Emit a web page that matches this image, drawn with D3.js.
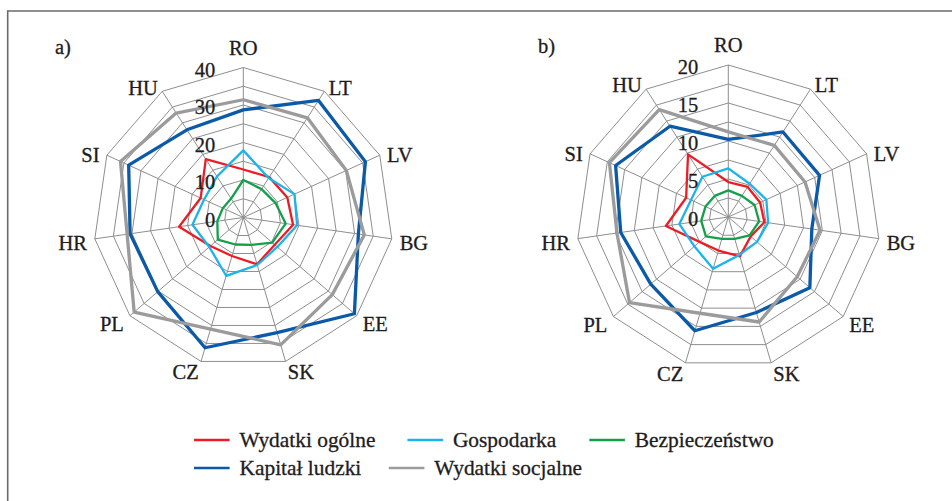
<!DOCTYPE html>
<html><head><meta charset="utf-8">
<script src="https://cdn.jsdelivr.net/npm/d3@7"></script>
<style>
body{margin:0;background:#fff}
svg{display:block}
text{font-family:"Liberation Serif","Times New Roman",serif;fill:#1e1c1d;stroke:#1e1c1d;stroke-width:0.3px}
</style>
</head><body>
<svg id="c" width="952" height="501"></svg>
<script>
// ---- data ----
const categories = ["RO","LT","LV","BG","EE","SK","CZ","PL","HR","SI","HU"];
const seriesNames = ["Wydatki ogólne","Gospodarka","Bezpieczeństwo","Kapitał ludzki","Wydatki socjalne"];
const seriesColors = ["#ec1c24","#1cb3ea","#14a04a","#0b5aa8","#9b9b9b"];

// panel a)
const aWydatkiOgolne   = [12.8, 12.8, 12.9, 13.4, 11.1, 13.0, 10.7, 11.6, 17.3, 12.5, 18.5];
const aGospodarka      = [17.9, 12.5, 15.0, 14.5, 12.0, 13.2, 16.2, 12.0, 13.7, 11.5, 13.0];
const aBezpieczenstwo  = [10.0,  9.0,  9.4, 11.4, 10.2,  7.6,  7.5,  9.0,  7.0,  6.0,  6.0];
const aKapitalLudzki   = [28.7, 37.1, 35.8, 31.0, 39.2, 32.0, 36.2, 30.2, 30.5, 33.6, 27.8];
const aWydatkiSocjalne = [31.4, 31.6, 30.2, 32.6, 31.4, 35.4, 31.0, 38.5, 31.3, 36.0, 33.1];
const aTicks = [0, 10, 20, 30, 40];

// panel b)
const bWydatkiOgolne   = [4.6, 4.7, 4.6, 4.8, 3.9, 5.4, 4.6, 5.0, 8.3, 6.1, 9.8];
const bGospodarka      = [6.4, 5.2, 5.5, 5.3, 5.0, 5.2, 7.1, 5.9, 6.5, 5.4, 6.3];
const bBezpieczenstwo  = [3.5, 3.3, 3.8, 4.1, 3.7, 3.0, 3.0, 3.9, 3.6, 3.3, 3.3];
const bKapitalLudzki   = [10.2, 13.3, 13.2, 11.1, 14.2, 13.1, 15.6, 13.5, 14.3, 16.3, 14.2];
const bWydatkiSocjalne = [11.2, 11.2, 11.1, 12.2, 12.0, 14.4, 13.2, 17.2, 14.8, 17.2, 16.8];
const bTicks = [0, 5, 10, 15, 20];

// ---- layout ----
const svg = d3.select("#c");
const FONT = 20.5;

// frame (top and left rules)
svg.append("line").attr("x1",7.7).attr("x2",952).attr("y1",11).attr("y2",11)
  .attr("stroke","#6a6a6a").attr("stroke-width",1.6);
svg.append("line").attr("x1",7.7).attr("x2",7.7).attr("y1",10.2).attr("y2",501)
  .attr("stroke","#6a6a6a").attr("stroke-width",1.6);

const panels = [
  {label:"a)", lx:55, ly:54, cx:243.3, cy:217.5, r:150, ticks:aTicks, rings:8, tickDx:-28,
   series:[aWydatkiOgolne,aGospodarka,aBezpieczenstwo,aKapitalLudzki,aWydatkiSocjalne]},
  {label:"b)", lx:538, ly:53, cx:728.3, cy:217, r:152, ticks:bTicks, rings:8, tickDx:-30,
   series:[bWydatkiOgolne,bGospodarka,bBezpieczenstwo,bKapitalLudzki,bWydatkiSocjalne]}
];
const widths = [2.3, 2.3, 2.3, 3.3, 3.3];

panels.forEach(p => {
  const max = d3.max(p.ticks);
  const rs = d3.scaleLinear().domain([0, max]).range([0, p.r]);
  const ang = d3.scaleLinear().domain([0, categories.length]).range([0, 2*Math.PI]);
  const g = svg.append("g").attr("transform", `translate(${p.cx},${p.cy})`);

  const ringVals = d3.range(1, p.rings+1).map(i => max * i / p.rings);
  const radial = d3.lineRadial().angle((d,i)=>ang(i)).radius(d=>rs(d)).curve(d3.curveLinearClosed);

  // rings
  g.selectAll(".ring").data(ringVals).enter().append("path")
    .attr("d", v => radial(categories.map(()=>v)))
    .attr("fill","none").attr("stroke","#8e8e8e").attr("stroke-width",1);
  // spokes
  g.selectAll(".spoke").data(categories).enter().append("line")
    .attr("x1",0).attr("y1",0)
    .attr("x2",(d,i)=>rs(max)*Math.sin(ang(i)))
    .attr("y2",(d,i)=>-rs(max)*Math.cos(ang(i)))
    .attr("stroke","#8e8e8e").attr("stroke-width",1);

  // series
  p.series.forEach((s, k) => {
    g.append("path").attr("d", radial(s))
      .attr("fill","none").attr("stroke", seriesColors[k])
      .attr("stroke-width", widths[k]).attr("stroke-linejoin","round");
  });

  // tick labels
  g.selectAll(".tick").data(p.ticks).enter().append("text")
    .attr("x", p.tickDx).attr("y", d => -rs(d) + 9)
    .attr("text-anchor","end").attr("font-size",FONT).text(d=>d);

  // category labels
  categories.forEach((c,i) => {
    const a = ang(i), sx = Math.sin(a), cy = -Math.cos(a);
    const R = rs(max) + 8;
    const px = R*sx, py = R*cy;
    const t = g.append("text").attr("font-size",FONT).text(c);
    if (Math.abs(sx) < 0.05) {
      t.attr("x",px).attr("y",py-5).attr("text-anchor","middle");
    } else {
      t.attr("x",px).attr("y",py+10).attr("text-anchor", sx>0 ? "start" : "end");
    }
  });

  svg.append("text").attr("x",p.lx).attr("y",p.ly).attr("font-size",FONT).text(p.label);
});

// legend
const legendItems = [
  {i:0, x:194,   y:440},
  {i:1, x:407.4, y:440},
  {i:2, x:589.3, y:440},
  {i:3, x:194,   y:468},
  {i:4, x:388.8, y:468}
];
const lg = svg.append("g");
legendItems.forEach(it => {
  lg.append("line").attr("x1",it.x).attr("x2",it.x+35.6).attr("y1",it.y).attr("y2",it.y)
    .attr("stroke",seriesColors[it.i]).attr("stroke-width",2.7);
  lg.append("text").attr("x",it.x+45.5).attr("y",it.y+6.5).attr("font-size",21.4)
    .text(seriesNames[it.i]);
});
</script>
</body></html>
